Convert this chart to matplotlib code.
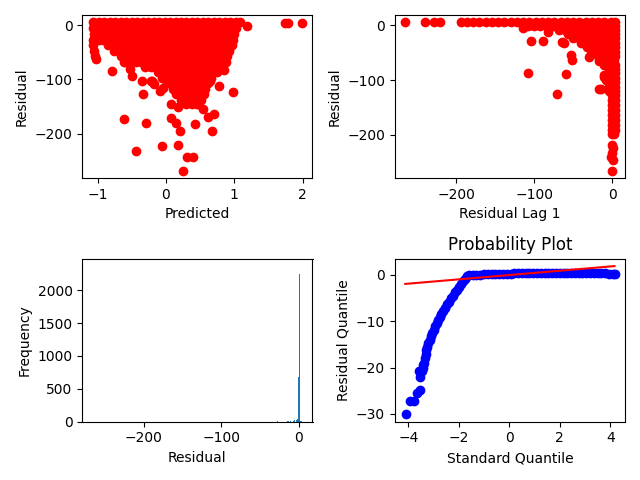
import matplotlib
matplotlib.use("Agg")
import matplotlib.pyplot as plt

# --- residual vs predicted (dense core written as rows: one residual level, many predictions)
core_resid = [5, -6, -17, -27, -37, -47, -57, -67, -77, -87, -97, -107, -117, -127, -137, -146]
core_pred = [
    [-1.06, -0.98, -0.90, -0.82, -0.74, -0.66, -0.58, -0.50, -0.42, -0.34, -0.26, -0.18, -0.10, -0.02,
     0.06, 0.14, 0.22, 0.30, 0.38, 0.46, 0.54, 0.62, 0.70, 0.78, 0.86, 0.94, 1.02, 1.08],
    [-1.06, -0.98, -0.90, -0.82, -0.74, -0.66, -0.58, -0.50, -0.42, -0.34, -0.26, -0.18, -0.10, -0.02,
     0.06, 0.14, 0.22, 0.30, 0.38, 0.46, 0.54, 0.62, 0.70, 0.78, 0.86, 0.94, 1.02],
    [-1.05, -0.97, -0.89, -0.81, -0.73, -0.65, -0.57, -0.49, -0.41, -0.33, -0.25, -0.17, -0.09, -0.01,
     0.07, 0.15, 0.23, 0.31, 0.39, 0.47, 0.55, 0.63, 0.71, 0.79, 0.87, 0.95, 1.00],
    [-1.06, -0.98, -0.92, -0.84, -0.76, -0.68, -0.60, -0.52, -0.44, -0.36, -0.28, -0.20, -0.12, -0.04,
     0.04, 0.12, 0.20, 0.28, 0.36, 0.44, 0.52, 0.60, 0.68, 0.76, 0.84, 0.92, 0.98],
    [-1.07, -0.85, -0.77, -0.69, -0.61, -0.53, -0.45, -0.37, -0.29, -0.21, -0.13, -0.05, 0.03, 0.11,
     0.19, 0.27, 0.35, 0.43, 0.51, 0.59, 0.67, 0.75, 0.83, 0.91, 0.96],
    [-1.05, -0.76, -0.68, -0.60, -0.52, -0.44, -0.36, -0.28, -0.20, -0.12, -0.04, 0.04, 0.12, 0.20,
     0.28, 0.36, 0.44, 0.52, 0.60, 0.68, 0.76, 0.84, 0.92],
    [-1.03, -0.66, -0.58, -0.50, -0.42, -0.34, -0.26, -0.18, -0.10, -0.02, 0.06, 0.14, 0.22, 0.30,
     0.38, 0.46, 0.54, 0.62, 0.70, 0.78, 0.86, 0.90],
    [-0.60, -0.52, -0.44, -0.36, -0.28, -0.20, -0.12, -0.04, 0.04, 0.12, 0.20, 0.28, 0.36, 0.44,
     0.52, 0.60, 0.68, 0.76, 0.84, 0.88],
    [-0.30, -0.22, -0.14, -0.06, 0.02, 0.10, 0.18, 0.26, 0.34, 0.42, 0.50, 0.58, 0.66, 0.74, 0.82],
    [-0.12, -0.04, 0.04, 0.12, 0.20, 0.28, 0.36, 0.44, 0.52, 0.60, 0.68, 0.74],
    [-0.06, 0.02, 0.10, 0.18, 0.26, 0.34, 0.42, 0.50, 0.58, 0.66],
    [0.02, 0.10, 0.18, 0.26, 0.34, 0.42, 0.50, 0.58, 0.62],
    [0.10, 0.18, 0.26, 0.34, 0.42, 0.50, 0.57],
    [0.15, 0.23, 0.31, 0.39, 0.47, 0.55],
    [0.22, 0.30, 0.38, 0.46, 0.52],
    [0.30, 0.38, 0.46],
]
# scattered points outside the core
out_pred = [-1.02, -0.79, -0.62, -0.52, -0.50, -0.35, -0.20, -0.34, -0.08, -0.22, -0.18, -0.05,
            0.07, 0.17, 0.47, 0.54, 0.62, 0.70, 0.07, 0.15, 0.21, 0.43, 0.67, -0.61, -0.29,
            -0.44, -0.06, 0.18, 0.31, 0.40, 0.25, 0.77, 0.98, 0.85, 0.64, 1.18, 1.74, 1.78, 1.99]
out_resid = [-62, -84, -68, -80, -93, -102, -102, -127, -121, -103, -109, -115,
             -146, -150, -146, -155, -170, -163, -171, -180, -195, -182, -195, -172, -180,
             -231, -222, -221, -243, -242, -268, -113, -123, -83, -102, -2, 4, 4, 4]

# --- residual vs residual lag 1 (rows: one residual level, many lag values)
lag_resid = [5, -1, -8, -16, -24, -32, -40, -48, -56, -64, -72,
             -80, -88, -96, -104, -112, -120,
             -128, -137, -146, -155, -164, -173, -182, -191, -199]
lag_prev = [
    [-265, -240, -228, -220, -194, -186, -178, -170, -162, -154, -146, -138, -130, -122, -114,
     -106, -98, -90, -82, -74, -66, -58, -50, -42, -34, -26, -18, -10, -2, 3],
    [-108, -100, -92, -84, -76, -68, -60, -52, -44, -36, -28, -20, -12, -4, 3],
    [-68, -60, -52, -44, -36, -28, -20, -12, -4, 3],
    [-56, -48, -40, -32, -24, -16, -8, 0, 3],
    [-50, -42, -34, -26, -18, -10, -2, 3],
    [-40, -32, -24, -16, -8, 0, 3],
    [-32, -24, -16, -8, 0, 3],
    [-24, -16, -8, 0, 3],
    [-18, -10, -2, 3],
    [-14, -6, 2],
    [-10, -3, 3],
    [-4, 3], [-4, 3], [-4, 3], [-4, 3], [-4, 3], [-4, 3],
    [0, 3], [0, 3], [0, 3], [0, 3], [0, 3], [0, 3], [0, 3], [0, 3], [0, 2],
]
lag_out_prev = [-114, -104, -88, -82, -108, -71, -59, -64, -62, -53, -52, -30, -27,
                -17, -17, -14, -10, -10, -8, 0, 1, 0, -1, 1, 0]
lag_out_resid = [-6, -28, -29, -12, -87, -126, -89, -30, -33, -55, -64, -58, -53,
                 -65, -116, -116, -95, -90, -99, -218, -224, -232, -240, -246, -265]

# --- histogram of residuals (bin centre, count)
hist_centers = [-265.0, -242.5, -229.0, -222.0, -195.0, -180.0, -150.0, -127.0, -124.0,
                -100.0, -90.0, -27.5, -15.0, -13.6, -10.2, -7.5, -6.1, -3.4, -2.0,
                -0.65, 0.7, 2.0, 3.4]
hist_counts = [1, 1, 1, 1, 1, 1, 1, 1, 1, 1, 2, 12, 10, 12, 14, 18, 20, 25, 45,
               677, 2240, 14, 6]
bin_width = 1.35

# --- probability plot
qq_theory = [-4.09, -3.93, -3.76, -3.66, -3.53, -3.53, -3.58, -3.45,
             -3.42, -3.40, -3.37, -3.34, -3.31, -3.28, -3.24, -3.20, -3.15, -3.10, -3.05,
             -3.00, -2.94, -2.88, -2.82, -2.76, -2.70, -2.63, -2.56, -2.48, -2.40, -2.32,
             -2.24, -2.16, -2.08, -2.00, -1.92, -1.84, -1.76, -1.68, -1.60,
             -1.45, -1.30, -1.15, -1.00, -0.85, -0.70, -0.55, -0.40, -0.25, -0.10, 0.05,
             0.20, 0.35, 0.50, 0.65, 0.80, 0.95, 1.10, 1.25, 1.40, 1.55, 1.70, 1.85, 2.00,
             2.15, 2.30, 2.45, 2.60, 2.75, 2.90, 3.05, 3.20, 3.35, 3.50, 3.65, 3.80, 3.95,
             4.10, 4.17]
qq_sample = [-30.1, -27.2, -27.3, -25.5, -24.8, -22.1, -20.7, -20.8,
             -20.0, -19.5, -19.0, -18.0, -17.0, -16.2, -15.5, -14.7, -14.0, -13.2, -12.5,
             -11.8, -11.0, -10.3, -9.7, -9.1, -8.5, -7.8, -7.1, -6.4, -5.8, -5.1,
             -4.5, -3.8, -3.2, -2.6, -2.0, -1.4, -0.9, -0.3, 0.0,
             0.0, 0.05, 0.05, 0.1, 0.1, 0.1, 0.1, 0.15, 0.15, 0.2, 0.25,
             0.3, 0.3, 0.3, 0.3, 0.3, 0.3, 0.3, 0.3, 0.3, 0.3, 0.3, 0.3, 0.3,
             0.3, 0.3, 0.3, 0.3, 0.3, 0.3, 0.3, 0.3, 0.3, 0.3, 0.3, 0.3, 0.25,
             0.25, 0.2]
qq_line_x = [-4.12, 4.17]
qq_line_y = [-1.96, 1.89]

# flatten the row data
pred = [x for row in core_pred for x in row] + out_pred
resid = [r for r, row in zip(core_resid, core_pred) for _ in row] + out_resid
prev = [x for row in lag_prev for x in row] + lag_out_prev
curr = [r for r, row in zip(lag_resid, lag_prev) for _ in row] + lag_out_resid

fig, axes = plt.subplots(2, 2, figsize=(6.4, 4.8), dpi=100)

ax = axes[0, 0]
ax.plot(pred, resid, "ro", linestyle="none")
ax.set_xlabel("Predicted")
ax.set_ylabel("Residual")

ax = axes[0, 1]
ax.plot(prev, curr, "ro", linestyle="none")
ax.set_xlabel("Residual Lag 1")
ax.set_ylabel("Residual")

ax = axes[1, 0]
ax.bar(hist_centers, hist_counts, width=bin_width, color="#1f77b4")
ax.set_ylim(0, 2480)
ax.set_xlabel("Residual")
ax.set_ylabel("Frequency")

ax = axes[1, 1]
ax.plot(qq_theory, qq_sample, "bo")
ax.plot(qq_line_x, qq_line_y, "r-")
ax.set_title("Probability Plot")
ax.set_xlabel("Standard Quantile")
ax.set_ylabel("Residual Quantile")

plt.tight_layout()
plt.savefig("out.png")
